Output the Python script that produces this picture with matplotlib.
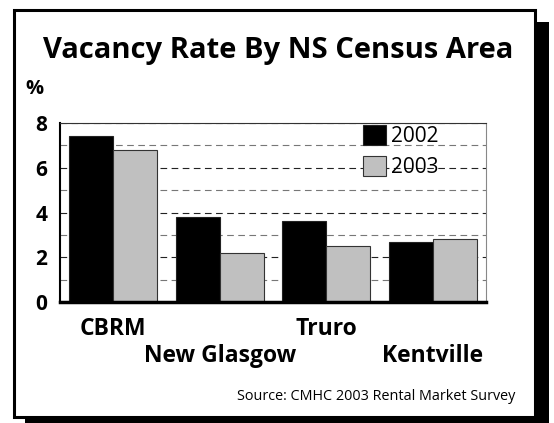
import matplotlib
matplotlib.use("Agg")
import matplotlib.pyplot as plt
from matplotlib.patches import Rectangle
import numpy as np

# chart data
areas = ["CBRM", "New Glasgow", "Truro", "Kentville"]
rate_2002 = [7.4, 3.8, 3.6, 2.7]
rate_2003 = [6.8, 2.2, 2.5, 2.8]
years = ["2002", "2003"]
y_ticks = [0, 2, 4, 6, 8]

plt.rcParams["font.family"] = ["Open Sans", "DejaVu Sans"]

W, H = 554, 423
fig = plt.figure(figsize=(W / 100, H / 100), dpi=100)

def px_rect(x0, y0, x1, y1):
    # pixel box (top-left origin) -> figure fraction rect
    return (x0 / W, 1 - y1 / H), (x1 - x0) / W, (y1 - y0) / H

# drop shadow and white framed panel, kept behind the axes
xy, w, h = px_rect(25, 22, 549, 440)
fig.patches.append(Rectangle(xy, w, h, transform=fig.transFigure,
                             facecolor="black", edgecolor="none", zorder=-3))
xy, w, h = px_rect(13.5, 10.5, 534.5, 416.5)
fig.patches.append(Rectangle(xy, w, h, transform=fig.transFigure,
                             facecolor="white", edgecolor="black",
                             linewidth=2.2, zorder=-2))

ax = fig.add_axes([60 / W, 1 - 302 / H, 426 / W, 179 / H])
ax.set_facecolor("none")

x = np.arange(len(areas))
bw = 0.413
ax.bar(x - bw / 2, rate_2002, bw, color="black", edgecolor="#222222",
       linewidth=0.8, label=years[0])
ax.bar(x + bw / 2, rate_2003, bw, color="#c0c0c0", edgecolor="#333333",
       linewidth=0.8, label=years[1])

ax.set_xlim(-0.5, len(areas) - 0.5)
ax.set_ylim(0, 8)

# dashed grid every 1, darker on the labelled values
ax.set_yticks(y_ticks)
ax.set_yticks([1, 3, 5, 7], minor=True)
ax.grid(axis="y", which="major", color="#222222", linestyle=(0, (6, 4)), linewidth=0.8)
ax.grid(axis="y", which="minor", color="#777777", linestyle=(0, (6, 4)), linewidth=0.8)
ax.set_axisbelow(True)
ax.tick_params(axis="y", which="both", length=0, pad=9, labelsize=15)
for t in ax.get_yticklabels():
    t.set_fontweight("bold")

# staggered category labels
ax.set_xticks(x)
ax.set_xticklabels([a if i % 2 == 0 else "\n" + a for i, a in enumerate(areas)],
                   fontsize=16.5, fontweight="bold", linespacing=1.13)
ax.tick_params(axis="x", length=0, pad=11)

ax.spines["left"].set_linewidth(1.5)
ax.spines["bottom"].set_linewidth(2.5)
ax.spines["top"].set_color("#333333")
ax.spines["top"].set_linewidth(0.8)
ax.spines["right"].set_color("#888888")
ax.spines["right"].set_linewidth(0.8)

ax.legend(loc="upper left", bbox_to_anchor=(0.706, 1.0), frameon=False,
          fontsize=15, handlelength=1.1, handleheight=1.1, handletextpad=0.25,
          labelspacing=0.43, borderaxespad=0, borderpad=0.1)

fig.text(278 / W, 1 - 58 / H, "Vacancy Rate By NS Census Area",
         ha="center", va="baseline", fontsize=21, fontweight="bold")
fig.text(34 / W, 1 - 94 / H, "%", ha="center", va="baseline",
         fontsize=14.5, fontweight="bold")
fig.text(515 / W, 1 - 400 / H, "Source: CMHC 2003 Rental Market Survey",
         ha="right", va="baseline", fontsize=10.4)

fig.savefig("out.png", dpi=100)
